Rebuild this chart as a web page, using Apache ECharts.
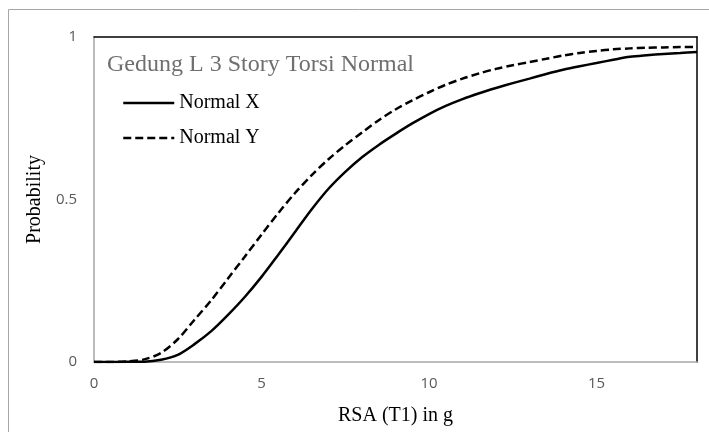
<!DOCTYPE html>
<html>
<head>
<meta charset="utf-8">
<script src="https://cdn.jsdelivr.net/npm/echarts@6/dist/echarts.min.js"></script>
<style>
  html, body { margin: 0; padding: 0; background: #fff; }
  #chart { width: 709px; height: 432px; }
</style>
</head>
<body>
<div id="chart"></div>
<script>
// Spectral acceleration RSA(T1) in g, sampled every 0.5 g
const rsa = [0, 0.5, 1, 1.5, 2, 2.5, 3, 3.5, 4, 4.5, 5, 5.5, 6, 6.5, 7, 7.5, 8, 8.5, 9,
             9.5, 10, 10.5, 11, 11.5, 12, 12.5, 13, 13.5, 14, 14.5, 15, 15.5, 16, 16.5, 17, 17.5, 18];

// Probability of exceedance, X direction
const normalX = [0, 0, 0.0005, 0.001, 0.007, 0.022, 0.055, 0.095, 0.145, 0.20, 0.262, 0.33, 0.40, 0.47, 0.533, 0.585,
                 0.63, 0.668, 0.702, 0.734, 0.763, 0.788, 0.809, 0.827, 0.843, 0.858, 0.872, 0.886, 0.899, 0.91,
                 0.92, 0.93, 0.939, 0.944, 0.948, 0.951, 0.954];

// Probability of exceedance, Y direction
const normalY = [0, 0, 0.002, 0.008, 0.028, 0.07, 0.13, 0.19, 0.257, 0.324, 0.392, 0.458, 0.52, 0.575, 0.624, 0.667,
                 0.706, 0.744, 0.777, 0.805, 0.83, 0.853, 0.872, 0.888, 0.902, 0.913, 0.923, 0.933, 0.943, 0.951,
                 0.957, 0.962, 0.965, 0.967, 0.968, 0.969, 0.969];

const seriesNames = ['Normal X', 'Normal Y'];
const chartTitle = 'Gedung L 3 Story Torsi Normal';
const xName = 'RSA (T1) in g';
const yName = 'Probability';

const pairs = (ys) => rsa.map((x, i) => [x, ys[i]]);

const chart = echarts.init(document.getElementById('chart'));

const gray = '#a6a6a6';
const tickFont = { color: '#595959', fontSize: 15, fontFamily: 'Open Sans, sans-serif' };

chart.setOption({
  animation: false,
  backgroundColor: '#fff',
  graphic: [{
    type: 'rect',
    shape: { x: 8.5, y: 9.5, width: 760, height: 460 },
    style: { fill: 'none', stroke: gray, lineWidth: 1 },
    silent: true, z: -1
  }],
  title: {
    text: chartTitle,
    left: 107, top: 52, padding: 0,
    textStyle: { fontFamily: 'Liberation Serif, serif', fontSize: 24, fontWeight: 'normal', color: '#6f6f6f', lineHeight: 26 }
  },
  legend: {
    orient: 'vertical',
    left: 122, top: 93, padding: 0,
    itemWidth: 51, itemHeight: 14, itemGap: 15,
    data: seriesNames,
    itemStyle: { opacity: 0 },
    lineStyle: { width: 2.5 },
    textStyle: { fontFamily: 'Liberation Serif, serif', fontSize: 20, color: '#000', lineHeight: 20 }
  },
  grid: { left: 94, right: 12, top: 37, bottom: 70 },
  xAxis: [{
    type: 'value', min: 0, max: 18, interval: 5,
    name: xName, nameLocation: 'middle', nameGap: 44,
    nameTextStyle: { fontFamily: 'Liberation Serif, serif', fontSize: 20, color: '#000' },
    axisLine: { lineStyle: { color: gray, width: 1.5 } },
    axisTick: { show: false },
    splitLine: { show: false },
    axisLabel: Object.assign({ margin: 14, showMaxLabel: false }, tickFont)
  }, {
    type: 'value', min: 0, max: 18, position: 'top',
    axisLine: { show: true, onZero: false, lineStyle: { color: '#000', width: 1.5 } },
    axisTick: { show: false }, axisLabel: { show: false }, splitLine: { show: false }
  }],
  yAxis: [{
    type: 'value', min: 0, max: 1, interval: 0.5,
    name: yName, nameLocation: 'middle', nameGap: 46,
    nameTextStyle: { fontFamily: 'Liberation Serif, serif', fontSize: 20, color: '#000' },
    axisLine: { show: true, lineStyle: { color: gray, width: 1.5 } },
    axisTick: { show: false },
    splitLine: { show: false },
    axisLabel: Object.assign({ margin: 17 }, tickFont)
  }, {
    type: 'value', min: 0, max: 1, position: 'right',
    axisLine: { show: true, onZero: false, lineStyle: { color: '#000', width: 1.5 } },
    axisTick: { show: false }, axisLabel: { show: false }, splitLine: { show: false }
  }],
  series: [{
    name: seriesNames[0],
    type: 'line',
    data: pairs(normalX),
    symbol: 'none',
    smooth: 0.3,
    lineStyle: { color: '#000', width: 2.5 },
    itemStyle: { color: '#000' }
  }, {
    name: seriesNames[1],
    type: 'line',
    data: pairs(normalY),
    symbol: 'none',
    smooth: 0.3,
    lineStyle: { color: '#000', width: 2.5, type: [8, 4] },
    itemStyle: { color: '#000' }
  }]
});
</script>
</body>
</html>
